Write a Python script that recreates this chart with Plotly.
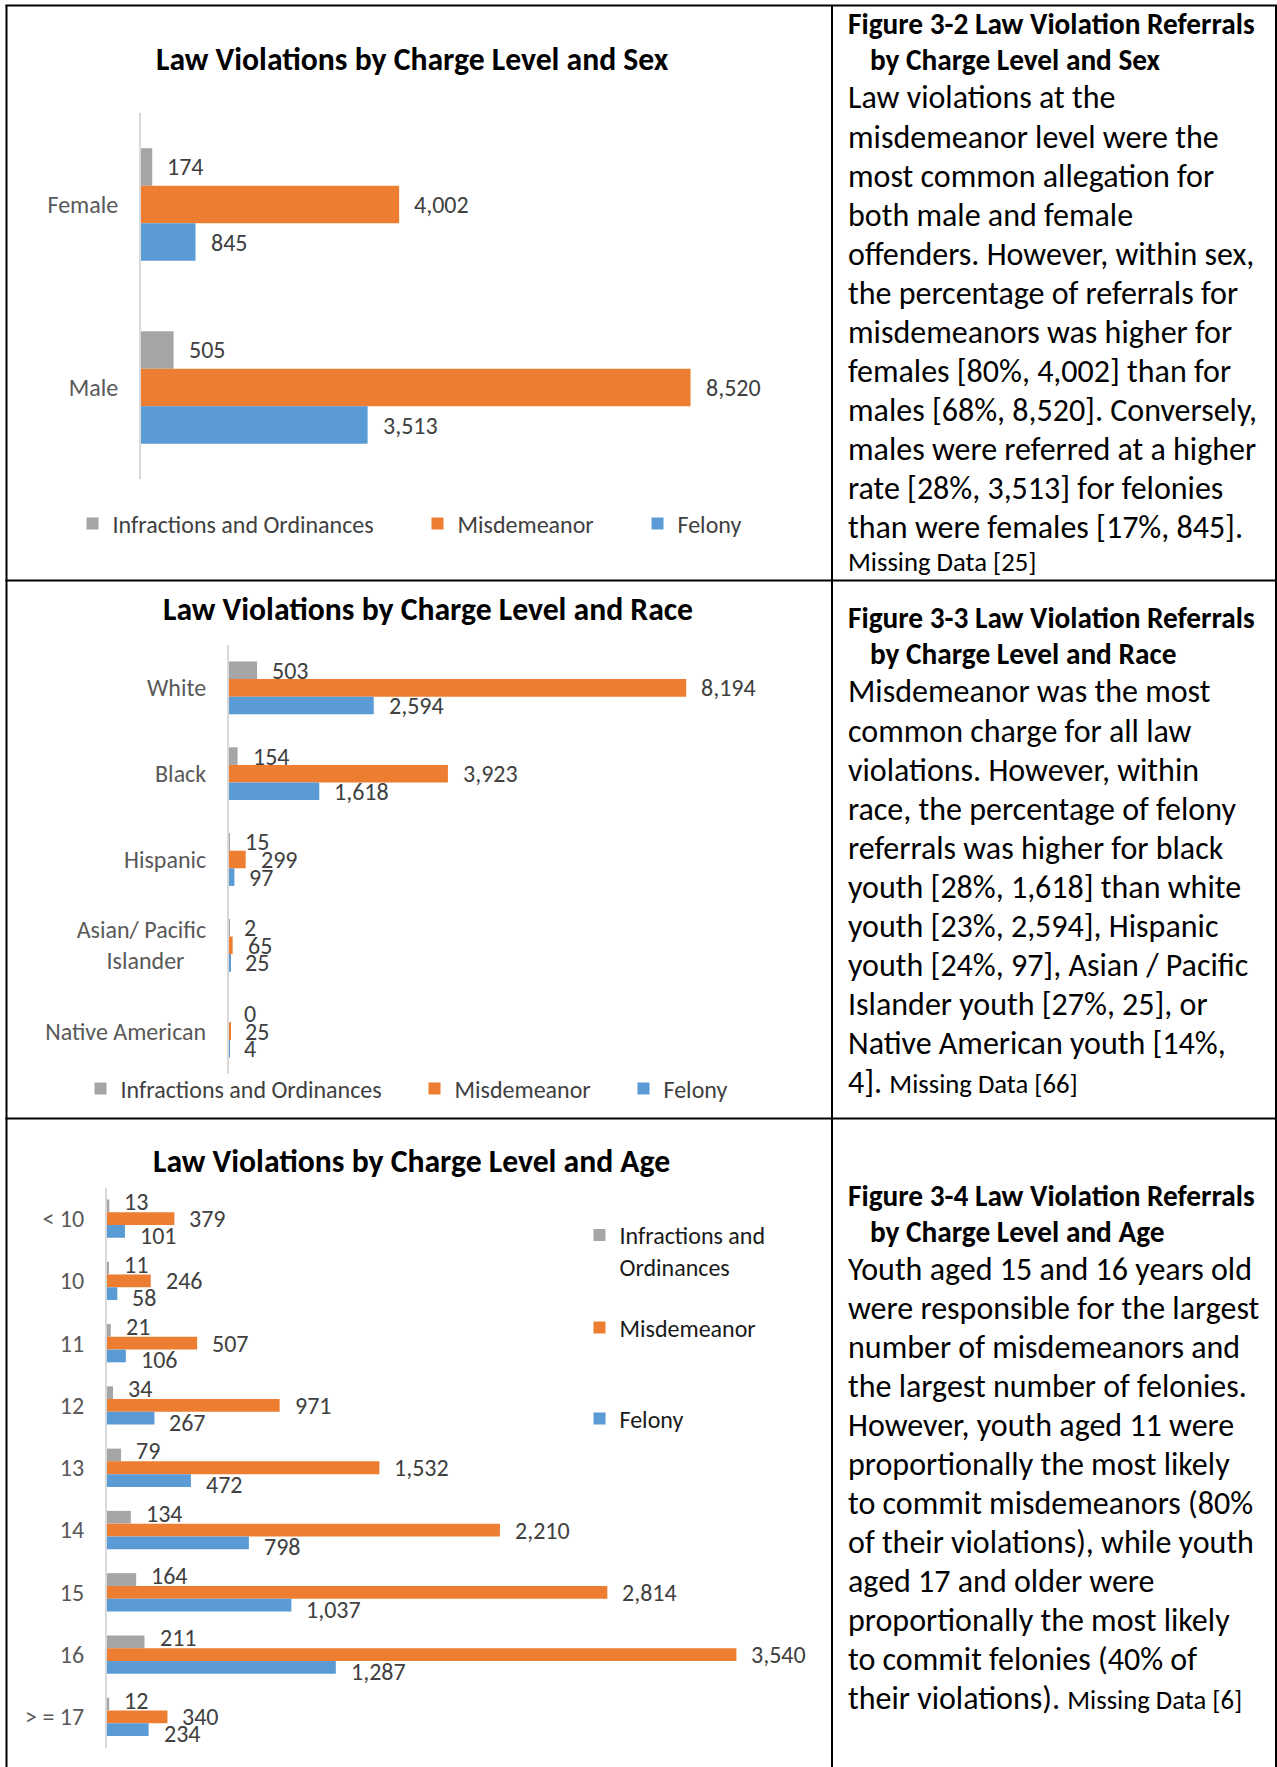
import plotly.graph_objects as go

W, H = 1277, 1767

# ---------------- data ----------------
charge_levels = ["Infractions and Ordinances", "Misdemeanor", "Felony"]
charge_levels_age = ["Infractions and<br>Ordinances", "Misdemeanor", "Felony"]
colors = ["#A5A5A5", "#ED7D31", "#5B9BD5"]

sex_categories = ["Female", "Male"]
sex_infractions = [174, 505]
sex_misdemeanor = [4002, 8520]
sex_felony = [845, 3513]

race_categories = ["White", "Black", "Hispanic", "Asian/ Pacific Islander", "Native American"]
race_tick_labels = ["White", "Black", "Hispanic",
                    "Asian/ Pacific<br>Islander" + "\u00a0" * 4, "Native American"]
race_infractions = [503, 154, 15, 2, 0]
race_misdemeanor = [8194, 3923, 299, 65, 25]
race_felony = [2594, 1618, 97, 25, 4]

age_categories = ["< 10", "10", "11", "12", "13", "14", "15", "16", "> = 17"]
age_infractions = [13, 11, 21, 34, 79, 134, 164, 211, 12]
age_misdemeanor = [379, 246, 507, 971, 1532, 2210, 2814, 3540, 340]
age_felony = [101, 58, 106, 267, 472, 798, 1037, 1287, 234]

chart_titles = ["Law Violations by Charge Level and Sex",
                "Law Violations by Charge Level and Race",
                "Law Violations by Charge Level and Age"]

text_headings = [
    ["Figure 3-2 Law Violation Referrals", "by Charge Level and Sex"],
    ["Figure 3-3 Law Violation Referrals", "by Charge Level and Race"],
    ["Figure 3-4 Law Violation Referrals", "by Charge Level and Age"],
]
text_bodies = [
    ["Law violations at the",
     "misdemeanor level were the",
     "most common allegation for",
     "both male and female",
     "offenders. However, within sex,",
     "the percentage of referrals for",
     "misdemeanors was higher for",
     "females [80%, 4,002] than for",
     "males [68%, 8,520]. Conversely,",
     "males were referred at a higher",
     "rate [28%, 3,513] for felonies",
     "than were females [17%, 845]."],
    ["Misdemeanor was the most",
     "common charge for all law",
     "violations. However, within",
     "race, the percentage of felony",
     "referrals was higher for black",
     "youth [28%, 1,618] than white",
     "youth [23%, 2,594], Hispanic",
     "youth [24%, 97], Asian / Pacific",
     "Islander youth [27%, 25], or",
     "Native American youth [14%,",
     "4]. <span style='font-size:26.7px'>Missing Data [66]</span>"],
    ["Youth aged 15 and 16 years old",
     "were responsible for the largest",
     "number of misdemeanors and",
     "the largest number of felonies.",
     "However, youth aged 11 were",
     "proportionally the most likely",
     "to commit misdemeanors (80%",
     "of their violations), while youth",
     "aged 17 and older were",
     "proportionally the most likely",
     "to commit felonies (40% of",
     "their violations). <span style='font-size:26.7px'>Missing Data [6]</span>"],
]
missing_sex = "Missing Data [25]"

# ---------------- layout helpers ----------------
FONT = "Carlito, Lato, sans-serif"
LBL = 24
BARGAP = 0.385


def px(x):
    return x / W


def py(y):
    return 1 - y / H


panels = [
    dict(cats=sex_categories, ticks=sex_categories,
         series=[sex_infractions, sex_misdemeanor, sex_felony], names=charge_levels,
         xa="x", ya="y", x0=141, scale=0.0645, xmax=9000, y0=113, y1=479,
         title_xy=(412, 60), legends=[(111, 524), (456, 524), (676, 524)], lab_shift=0,
         legend_color="#404040"),
    dict(cats=race_categories, ticks=race_tick_labels,
         series=[race_infractions, race_misdemeanor, race_felony], names=charge_levels,
         xa="x2", ya="y2", x0=229, scale=0.0558, xmax=9000, y0=645, y1=1074,
         title_xy=(428, 610), legends=[(119, 1089), (453, 1089), (662, 1089)], lab_shift=0,
         legend_color="#404040"),
    dict(cats=age_categories, ticks=age_categories,
         series=[age_infractions, age_misdemeanor, age_felony], names=charge_levels_age,
         xa="x3", ya="y3", x0=107, scale=0.1778, xmax=4000, y0=1187.5, y1=1748,
         title_xy=(411, 1161), legends=[(618, 1251), (618, 1328), (618, 1419)], lab_shift=4,
         legend_color="#1a1a1a"),
]

fig = go.Figure()
annotations = []
layout = {}
legend_n = 0
w = (1 - BARGAP) / 3

for p_i, p in enumerate(panels):
    xkey = "xaxis" + p["xa"][1:]
    ykey = "yaxis" + p["ya"][1:]
    layout[xkey] = dict(domain=[px(p["x0"]), px(p["x0"] + p["scale"] * p["xmax"])],
                        range=[0, p["xmax"]], visible=False, fixedrange=True,
                        anchor=p["ya"])
    layout[ykey] = dict(domain=[py(p["y1"]), py(p["y0"])], anchor=p["xa"],
                        type="category", categoryorder="array", categoryarray=p["cats"],
                        autorange="reversed", tickmode="array", tickvals=p["cats"],
                        ticktext=p["ticks"], showline=True, linecolor="#D9D9D9",
                        linewidth=2, showgrid=False, zeroline=False, ticks="",
                        ticklabelstandoff=16, fixedrange=True,
                        tickfont=dict(family=FONT, size=LBL, color="#595959"))
    for s_i, (vals, name, col) in enumerate(zip(p["series"], p["names"], colors)):
        legend_n += 1
        lkey = "legend" if legend_n == 1 else f"legend{legend_n}"
        fig.add_trace(go.Bar(x=vals, y=p["cats"], orientation="h", name=name,
                             marker=dict(color=col, line=dict(width=0)),
                             xaxis=p["xa"], yaxis=p["ya"], legend=lkey,
                             hoverinfo="x+y"))
        lx, ly = p["legends"][s_i]
        layout[lkey] = dict(x=px(lx - 38.5), y=py(ly), xanchor="left", yanchor="middle",
                            bgcolor="rgba(0,0,0,0)", borderwidth=0, valign="top",
                            font=dict(family=FONT, size=LBL, color=p["legend_color"]))
        off = (s_i - 1) * w
        shift = -(s_i - 1) * p["lab_shift"]
        for c_i, v in enumerate(vals):
            annotations.append(dict(x=v, y=c_i + off, xref=p["xa"], yref=p["ya"],
                                    text=f"{v:,}", showarrow=False, xanchor="left",
                                    yanchor="middle", xshift=13, yshift=shift,
                                    font=dict(family=FONT, size=LBL, color="#404040")))
    tx, ty = p["title_xy"]
    annotations.append(dict(x=px(tx), y=py(ty), xref="paper", yref="paper",
                            text="<b>" + chart_titles[p_i] + "</b>", showarrow=False,
                            xanchor="center", yanchor="middle",
                            font=dict(family=FONT, size=31.7, color="#000000")))

# ---------------- right-hand text ----------------
heading_y = [23.7, 617.6, 1196]
body_y = [98, 692, 1269]
for t_i in range(3):
    for l_i, line in enumerate(text_headings[t_i]):
        annotations.append(dict(x=px(846 if l_i == 0 else 868), y=py(heading_y[t_i] + 36 * l_i),
                                xref="paper", yref="paper", text="<b>" + line + "</b>",
                                showarrow=False, xanchor="left", yanchor="middle",
                                font=dict(family=FONT, size=29.3, color="#000000")))
    for l_i, line in enumerate(text_bodies[t_i]):
        annotations.append(dict(x=px(846), y=py(body_y[t_i] + 39.05 * l_i),
                                xref="paper", yref="paper", text=line,
                                showarrow=False, xanchor="left", yanchor="middle",
                                font=dict(family=FONT, size=32, color="#000000")))
annotations.append(dict(x=px(846), y=py(562), xref="paper", yref="paper", text=missing_sex,
                        showarrow=False, xanchor="left", yanchor="middle",
                        font=dict(family=FONT, size=26.7, color="#000000")))

# ---------------- table borders ----------------
shapes = []
line_style = dict(color="#000000", width=2)
for xv in [6.5, 832, 1276]:
    shapes.append(dict(type="line", xref="paper", yref="paper", x0=px(xv), x1=px(xv),
                       y0=py(5), y1=py(H + 5), line=line_style))
for yv in [5.5, 580.5, 1118.5]:
    shapes.append(dict(type="line", xref="paper", yref="paper", x0=px(5.5), x1=px(W + 5),
                       y0=py(yv), y1=py(yv), line=line_style))

fig.update_layout(
    width=W, height=H, margin=dict(l=0, r=0, t=0, b=0),
    paper_bgcolor="#FFFFFF", plot_bgcolor="rgba(0,0,0,0)",
    barmode="group", bargap=BARGAP, bargroupgap=0,
    showlegend=True, annotations=annotations, shapes=shapes,
    font=dict(family=FONT),
    **layout,
)

fig.write_html("out.html", config={"displayModeBar": False},
               post_script="document.body.style.margin='0';document.body.style.overflow='hidden';")
